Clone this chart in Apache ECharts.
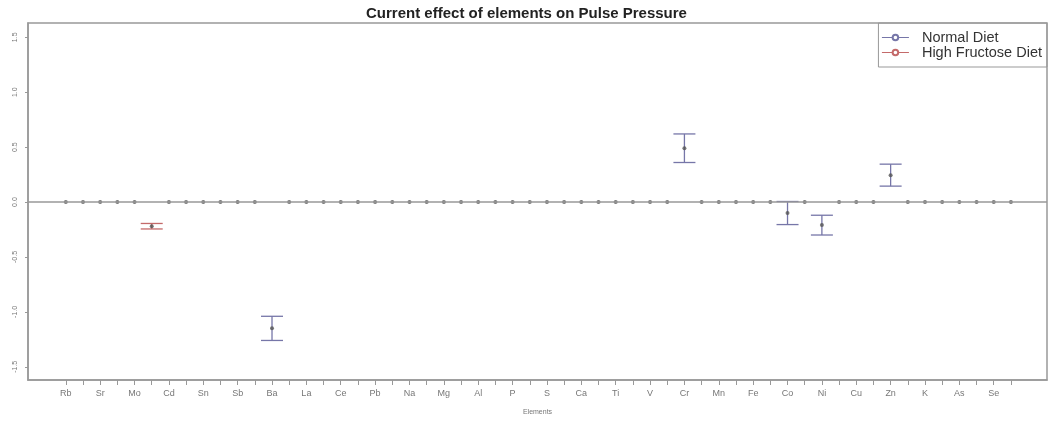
<!DOCTYPE html>
<html>
<head>
<meta charset="utf-8">
<script src="https://cdn.jsdelivr.net/npm/echarts@6/dist/echarts.min.js"></script>
<style>html,body{margin:0;padding:0;background:#fff}#main{width:1053px;height:426px}</style>
</head>
<body>
<div id="main"></div>
<script>
// elements on the x axis (each one has a Normal and a High Fructose position)
const elements = ['Rb','Sr','Mo','Cd','Sn','Sb','Ba','La','Ce','Pb','Na','Mg','Al','P','S','Ca','Ti','V','Cr','Mn','Fe','Co','Ni','Cu','Zn','K','As','Se'];
const normalMean = [0,0,0,0,0,0,-1.15,0,0,0,0,0,0,0,0,0,0,0,0.49,0,0,-0.10,-0.21,0,0.245,0,0,0];
const normalErr  = [0,0,0,0,0,0,0.11,0,0,0,0,0,0,0,0,0,0,0,0.13,0,0,0.105,0.09,0,0.10,0,0,0];
const hfdMean = [0,0,-0.22,0,0,0,0,0,0,0,0,0,0,0,0,0,0,0,0,0,0,0,0,0,0,0,0,0];
const hfdErr  = [0,0,0.025,0,0,0,0,0,0,0,0,0,0,0,0,0,0,0,0,0,0,0,0,0,0,0,0,0];
const yTicks = [-1.5,-1.0,-0.5,0.0,0.5,1.0,1.5];

const blue = '#7676a8';
const red = '#c46a6a';
const font = 'Liberation Sans, Arial, sans-serif';

const normalData = elements.map((e, i) => [2 * i, normalMean[i], normalErr[i]]);
const hfdData = elements.map((e, i) => [2 * i + 1, hfdMean[i], hfdErr[i]]);
const allPoints = normalData.concat(hfdData).map(d => [d[0], d[1]]);
const xTickVals = [];
for (let i = 0; i < elements.length * 2; i++) xTickVals.push(i);
const xLabelVals = elements.map((e, i) => 2 * i);

function errBar(color) {
  return function (params, api) {
    const err = api.value(2);
    if (!err) return null;
    const x = api.value(0), m = api.value(1);
    const top = api.coord([x, m + err]);
    const bot = api.coord([x, m - err]);
    const w = 11;
    const st = { stroke: color, lineWidth: 1.3 };
    return {
      type: 'group',
      children: [
        { type: 'line', shape: { x1: top[0], y1: top[1], x2: bot[0], y2: bot[1] }, style: st },
        { type: 'line', shape: { x1: top[0] - w, y1: top[1], x2: top[0] + w, y2: top[1] }, style: st },
        { type: 'line', shape: { x1: bot[0] - w, y1: bot[1], x2: bot[0] + w, y2: bot[1] }, style: st }
      ]
    };
  };
}

const chart = echarts.init(document.getElementById('main'));
chart.setOption({
  animation: false,
  title: {
    text: 'Current effect of elements on Pulse Pressure',
    left: 'center', top: 1,
    textStyle: { fontFamily: font, fontSize: 15, fontWeight: 'bold', color: '#222' }
  },
  legend: {
    data: ['Normal Diet', 'High Fructose Diet'],
    orient: 'vertical',
    right: 6, top: 23,
    width: 175,
    padding: [7, 5, 7, 3],
    itemWidth: 27, itemHeight: 7, itemGap: 0,
    lineStyle: { width: 1 },
    itemStyle: { borderWidth: 1 },
    borderColor: '#999', borderWidth: 1,
    textStyle: { fontFamily: font, fontSize: 14.5, color: '#333', padding: [0, 0, 0, 8] }
  },
  grid: {
    left: 28, right: 6, top: 23, bottom: 46,
    show: true, borderColor: '#999', borderWidth: 1.5
  },
  xAxis: {
    type: 'value', min: -2.2, max: 57.1,
    name: 'Elements', nameLocation: 'middle', nameGap: 29,
    nameTextStyle: { fontFamily: font, fontSize: 7, color: '#777' },
    axisLine: { show: true, onZero: false, lineStyle: { color: '#999', width: 1.5 } },
    axisTick: { show: true, inside: false, length: 5, customValues: xTickVals, lineStyle: { color: '#999' } },
    axisLabel: {
      customValues: xLabelVals, margin: 9,
      fontFamily: font, fontSize: 9, color: '#777',
      formatter: v => elements[Math.round(v / 2)]
    },
    splitLine: { show: false }
  },
  yAxis: {
    type: 'value', min: -1.62, max: 1.63,
    axisLine: { show: true, onZero: false, lineStyle: { color: '#999', width: 1.5 } },
    axisTick: { show: true, length: 3, customValues: yTicks, lineStyle: { color: '#999' } },
    axisLabel: {
      customValues: yTicks, rotate: 90, margin: 9,
      fontFamily: font, fontSize: 7, color: '#777',
      formatter: v => v.toFixed(1)
    },
    splitLine: { show: false }
  },
  series: [
    { name: 'Normal Diet', type: 'line', data: [], color: blue, symbol: 'emptyCircle', symbolSize: 5, lineStyle: { width: 1 } },
    { name: 'High Fructose Diet', type: 'line', data: [], color: red, symbol: 'emptyCircle', symbolSize: 5, lineStyle: { width: 1 } },
    { name: 'normalBars', type: 'custom', renderItem: errBar(blue), data: normalData, encode: { x: 0, y: 1 }, z: 3 },
    { name: 'hfdBars', type: 'custom', renderItem: errBar(red), data: hfdData, encode: { x: 0, y: 1 }, z: 3 },
    {
      name: 'points', type: 'scatter', data: allPoints, symbolSize: 4,
      itemStyle: { color: '#555' }, z: 4,
      markLine: {
        silent: true, symbol: 'none', label: { show: false },
        lineStyle: { color: '#999', width: 1.5, type: 'solid' },
        data: [{ yAxis: 0 }]
      }
    }
  ]
});
</script>
</body>
</html>
